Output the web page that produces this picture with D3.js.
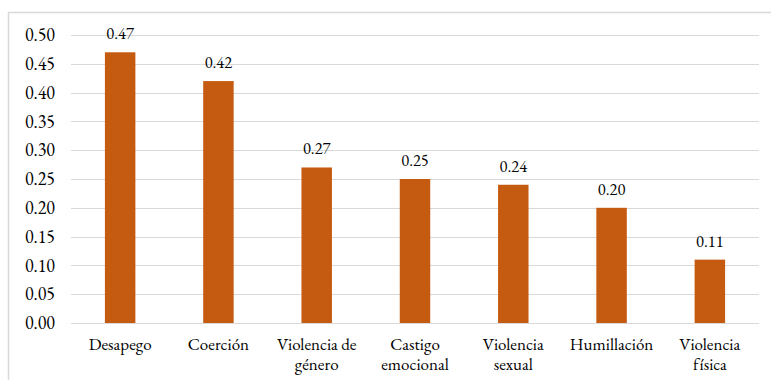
<!DOCTYPE html>
<html>
<head>
<meta charset="utf-8">
<script src="https://cdn.jsdelivr.net/npm/d3@7"></script>
<style>
  html, body { margin: 0; padding: 0; background: #fff; }
  svg { display: block; }
</style>
</head>
<body>
<svg id="chart" width="771" height="380"></svg>
<script>
const categories = [["Desapego"], ["Coerción"], ["Violencia de", "género"], ["Castigo", "emocional"], ["Violencia", "sexual"], ["Humillación"], ["Violencia", "física"]];
const values = [0.47, 0.42, 0.27, 0.25, 0.24, 0.20, 0.11];
const yTicks = [0, 0.05, 0.10, 0.15, 0.20, 0.25, 0.30, 0.35, 0.40, 0.45, 0.50];

const FONT = '"EB Garamond", "Liberation Serif", serif';
const svg = d3.select("#chart");
const W = 771, H = 380;
const m = { left: 71, right: 12, top: 35, bottom: 57 };

function styleText(sel, size) {
  sel.style("font-family", FONT)
     .style("font-size", size + "px")
     .style("font-variant-numeric", "lining-nums")
     .style("fill", "#000");
}

// outer frame
svg.append("rect")
  .attr("x", 8.5).attr("y", 12.5)
  .attr("width", W + 10).attr("height", H)
  .attr("fill", "none").attr("stroke", "#d9d9d9").attr("stroke-width", 1.5);

const x = d3.scaleBand()
  .domain(d3.range(categories.length))
  .range([m.left, W - m.right])
  .paddingInner(0.69).paddingOuter(0.345);

const y = d3.scaleLinear().domain([0, 0.5]).range([H - m.bottom, m.top]);

// gridlines
svg.append("g").selectAll("line").data(yTicks).join("line")
  .attr("x1", m.left).attr("x2", W - m.right)
  .attr("y1", d => Math.round(y(d)) + 0.5).attr("y2", d => Math.round(y(d)) + 0.5)
  .attr("stroke", "#d9d9d9").attr("stroke-width", 1.2);

// y-axis labels
const yAxis = d3.axisLeft(y).tickValues(yTicks).tickFormat(d3.format(".2f")).tickSize(0).tickPadding(16);
const gy = svg.append("g").attr("transform", `translate(${m.left},0)`).call(yAxis);
gy.select(".domain").remove();
styleText(gy.selectAll("text"), 18);

// bars
svg.append("g").selectAll("rect").data(values).join("rect")
  .attr("x", (d, i) => x(i))
  .attr("y", d => y(d))
  .attr("width", x.bandwidth())
  .attr("height", d => y(0) - y(d))
  .attr("fill", "#c55a11");

// value labels
const vl = svg.append("g").selectAll("text").data(values).join("text")
  .attr("x", (d, i) => x(i) + x.bandwidth() / 2)
  .attr("y", d => y(d) - 13)
  .attr("text-anchor", "middle")
  .text(d => d3.format(".2f")(d));
styleText(vl, 16.5);

// category labels
const cl = svg.append("g").selectAll("text").data(categories).join("text")
  .attr("x", (d, i) => x(i) + x.bandwidth() / 2)
  .attr("y", 350)
  .attr("text-anchor", "middle");
styleText(cl, 17);
cl.selectAll("tspan").data(d => d).join("tspan")
  .attr("x", function() { return d3.select(this.parentNode).attr("x"); })
  .attr("dy", (d, i) => i === 0 ? 0 : 20)
  .text(d => d);
</script>
</body>
</html>
